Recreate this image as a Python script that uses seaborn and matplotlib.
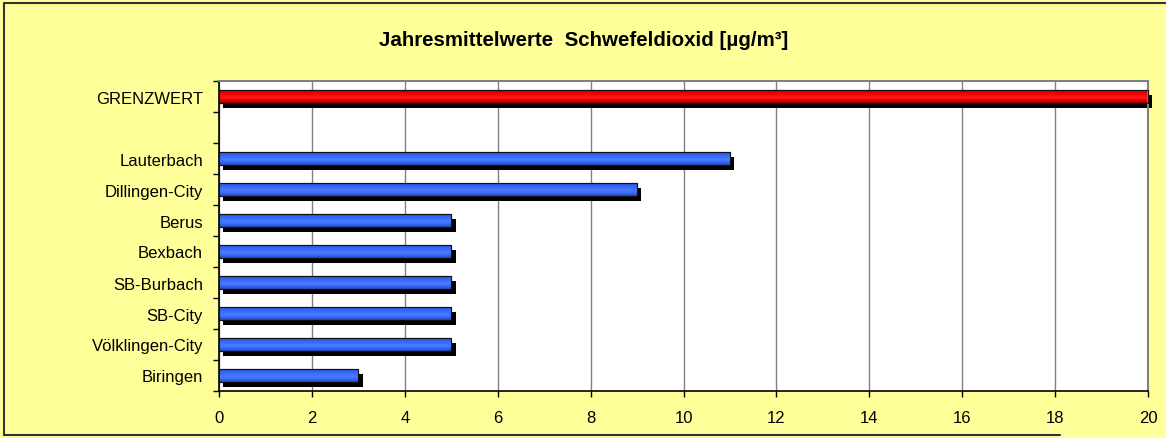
import numpy as np
import pandas as pd
import matplotlib
matplotlib.use("Agg")
import matplotlib.pyplot as plt
import matplotlib.patheffects as pe
from matplotlib.colors import LinearSegmentedColormap
from matplotlib.patches import Rectangle
from matplotlib.lines import Line2D
import seaborn as sns

# ---- data ----
stations = ["GRENZWERT", "Lauterbach", "Dillingen-City", "Berus", "Bexbach",
            "SB-Burbach", "SB-City", "Völklingen-City", "Biringen"]
values = [20, 11, 9, 5, 5, 5, 5, 5, 3]
order = ["GRENZWERT", " ", "Lauterbach", "Dillingen-City", "Berus", "Bexbach",
         "SB-Burbach", "SB-City", "Völklingen-City", "Biringen"]
x_ticks = [0, 2, 4, 6, 8, 10, 12, 14, 16, 18, 20]
title = "Jahresmittelwerte  Schwefeldioxid [µg/m³]"

df = pd.DataFrame({"station": stations, "value": values})

sns.set_theme(style="white")
plt.rcParams["font.family"] = ["Liberation Sans", "DejaVu Sans"]

BG = "#FFFF99"
RED = "#FF0000"
BLUE = "#3366FF"
palette = {s: (RED if s == "GRENZWERT" else BLUE) for s in stations}

fig = plt.figure(figsize=(11.66, 4.39), dpi=100, facecolor=BG)
ax = fig.add_axes([219 / 1166, 1 - 392 / 439, (1148 - 219) / 1166, (392 - 82) / 439])
ax.set_facecolor("white")
ax.set_axisbelow(True)

sns.barplot(data=df, x="value", y="station", hue="station", order=order,
            palette=palette, legend=False, width=0.42, orient="h",
            edgecolor="black", linewidth=0.8, saturation=1, ax=ax, zorder=2)

# shadows + cylinder-like gradient on every bar seaborn drew
cmaps = {
    "red": LinearSegmentedColormap.from_list(
        "r", ["#700000", "#e00000", "#ff0000", "#ff1a1a", "#f00000", "#900000"]),
    "blue": LinearSegmentedColormap.from_list(
        "b", ["#1a3a99", "#3060f0", "#3a6cff", "#4a7bff", "#3868f8", "#2448b8"]),
}
grad = np.linspace(0, 1, 64).reshape(-1, 1)
for p in list(ax.patches):
    w = p.get_width()
    if not np.isfinite(w) or w == 0:
        continue
    p.set_clip_on(False)
    p.set_path_effects([pe.SimplePatchShadow(offset=(3.2, -3.6), shadow_rgbFace="black",
                                             alpha=1.0), pe.Normal()])
    x0, y0 = p.get_x(), p.get_y()
    h = p.get_height()
    fc = p.get_facecolor()
    cm = cmaps["red"] if fc[0] > 0.9 and fc[2] < 0.2 else cmaps["blue"]
    im = ax.imshow(grad, cmap=cm, aspect="auto", interpolation="bilinear",
                   extent=(x0, x0 + w, y0 + h, y0), zorder=2.5)
    im.set_clip_path(p)
    ax.add_patch(Rectangle((x0, y0), w, h, facecolor="none", edgecolor="#111111",
                           linewidth=0.8, zorder=3, clip_on=False))

ax.set_xlim(0, 20)
ax.set_ylim(len(order) - 0.5, -0.5)
ax.set_xticks(x_ticks)
ax.set_xticklabels([str(t) for t in x_ticks])
ax.set_yticks(range(len(order)))
ax.set_yticklabels(order)
ax.set_yticks(np.arange(-0.5, len(order), 1.0), minor=True)
ax.set_xlabel("")
ax.set_ylabel("")

ax.grid(axis="x", color="#808080", linewidth=1.0)
ax.grid(axis="y", visible=False)
ax.tick_params(axis="y", which="major", length=0, pad=11.5, labelsize=12, labelcolor="black")
ax.tick_params(axis="y", which="minor", left=True, length=4, width=1, color="black")
ax.tick_params(axis="x", which="major", bottom=True, length=4, width=1, color="black",
               pad=9.5, labelsize=12, labelcolor="black")

for side in ["left", "bottom"]:
    ax.spines[side].set_color("black")
    ax.spines[side].set_linewidth(1.2)
for side in ["top", "right"]:
    ax.spines[side].set_color("#808080")
    ax.spines[side].set_linewidth(1.5)

fig.text(584 / 1166, 1 - 40 / 439, title, ha="center", va="center",
         fontsize=14.8, fontweight="bold", color="black")

# outer chart border
fig.add_artist(Line2D([4 / 1166, 4 / 1166], [1 - 4 / 439, 1 - 436 / 439],
                      color="#333333", linewidth=1.5, transform=fig.transFigure))
fig.add_artist(Line2D([4 / 1166, 1.0], [1 - 4 / 439, 1 - 4 / 439],
                      color="#333333", linewidth=1.5, transform=fig.transFigure))
fig.add_artist(Line2D([4 / 1166, 1060 / 1166], [1 - 436 / 439, 1 - 436 / 439],
                      color="#333333", linewidth=1.5, transform=fig.transFigure))

fig.savefig("out.png", dpi=100, facecolor=BG)
